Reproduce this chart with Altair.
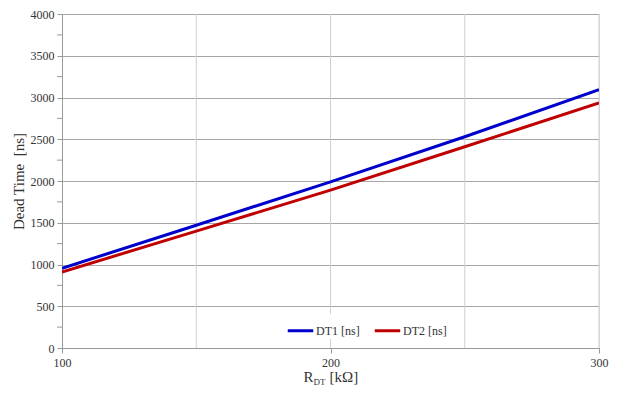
import altair as alt
import pandas as pd

r_dt = [100, 150, 200, 250, 300]
dt1 = [955, 1470, 1990, 2530, 3095]
dt2 = [910, 1400, 1890, 2410, 2935]
series_names = ["DT1 [ns]", "DT2 [ns]"]
colors = ["#0000CC", "#C00000"]

rows = []
for x, a, b in zip(r_dt, dt1, dt2):
    rows.append({"R": x, "T": a, "S": series_names[0]})
    rows.append({"R": x, "T": b, "S": series_names[1]})
df = pd.DataFrame(rows)

FONT = "'Liberation Serif', 'Times New Roman', serif"
W, H = 537, 334

lines = alt.Chart(df).mark_line(strokeWidth=3, clip=True).encode(
    x=alt.X("R:Q", scale=alt.Scale(domain=[100, 300], nice=False, zero=False),
            axis=alt.Axis(values=[100, 200, 300], grid=False, title=None, tickSize=5,
                          labelPadding=4, labelFlush=False, format="d")),
    y=alt.Y("T:Q", scale=alt.Scale(domain=[0, 4000], nice=False),
            axis=alt.Axis(values=list(range(0, 4001, 500)), grid=True, gridColor="#a6a6a6",
                          format="d", title="Dead Time\u00a0 [ns]", titlePadding=4,
                          tickSize=5, labelPadding=3)),
    color=alt.Color("S:N", scale=alt.Scale(domain=series_names, range=colors),
                    legend=alt.Legend(orient="none", legendX=222, legendY=300, direction="horizontal",
                                      title=None, symbolType="stroke", symbolStrokeWidth=3,
                                      symbolSize=650, fillColor="white", padding=2,
                                      columnPadding=8, symbolOffset=0, labelOffset=1)),
)

xgrid = alt.Chart(pd.DataFrame({"g": [150, 200, 250, 300]})).mark_rule(color="#d0d0d0", strokeWidth=1).encode(
    x=alt.X("g:Q", scale=alt.Scale(domain=[100, 300], nice=False, zero=False))
)

minor = alt.Chart(pd.DataFrame({"m": list(range(250, 4000, 500))})).mark_rule(color="#999").encode(
    y=alt.Y("m:Q", scale=alt.Scale(domain=[0, 4000], nice=False)),
    x=alt.value(-5), x2=alt.value(0)
)

title_main = alt.Chart(pd.DataFrame({"t": ["R"]})).mark_text(
    font=FONT, fontSize=15, color="#333", align="right", baseline="alphabetic"
).encode(text="t:N", x=alt.value(W / 2 - 17), y=alt.value(H + 34))
title_sub = alt.Chart(pd.DataFrame({"t": ["DT"]})).mark_text(
    font=FONT, fontSize=9, color="#333", align="left", baseline="alphabetic"
).encode(text="t:N", x=alt.value(W / 2 - 17), y=alt.value(H + 37))
title_rest = alt.Chart(pd.DataFrame({"t": ["[kΩ]"]})).mark_text(
    font=FONT, fontSize=15, color="#333", align="left", baseline="alphabetic"
).encode(text="t:N", x=alt.value(W / 2 - 1), y=alt.value(H + 34))

chart = alt.layer(xgrid, lines, minor, title_main, title_sub, title_rest).properties(
    width=W, height=H,
    autosize=alt.AutoSizeParams(type="none"),
    padding={"left": 54, "top": 6, "right": 14, "bottom": 45},
).configure_view(stroke=None).configure(background="white").configure_axis(
    labelFont=FONT, labelFontSize=12, labelColor="#333",
    titleFont=FONT, titleFontSize=15, titleFontWeight="normal", titleColor="#333",
    domainColor="#999", tickColor="#999",
).configure_legend(labelFont=FONT, labelFontSize=12, labelColor="#333")

chart.save("out.html", embed_options={"renderer": "svg", "actions": False})
